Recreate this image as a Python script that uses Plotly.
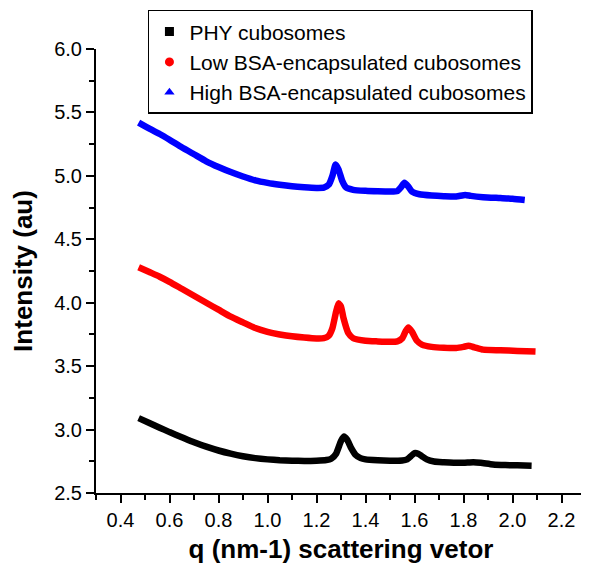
import plotly.graph_objects as go

# ---- data ----
q_phy = [0.474, 0.52, 0.56, 0.60, 0.65, 0.70, 0.75, 0.80, 0.85, 0.90, 0.95, 1.00, 1.05, 1.10,
         1.15, 1.20, 1.24, 1.26, 1.28, 1.30, 1.312, 1.325, 1.34, 1.36, 1.38, 1.40, 1.45, 1.50,
         1.55, 1.57, 1.585, 1.60, 1.615, 1.63, 1.65, 1.68, 1.72, 1.76, 1.80, 1.84, 1.87, 1.92,
         1.97, 2.02, 2.078]
i_phy = [3.09, 3.05, 3.015, 2.98, 2.94, 2.90, 2.865, 2.835, 2.81, 2.79, 2.775, 2.765, 2.758, 2.754,
         2.753, 2.755, 2.76, 2.77, 2.81, 2.91, 2.945, 2.92, 2.86, 2.80, 2.775, 2.765, 2.758, 2.755,
         2.756, 2.765, 2.79, 2.815, 2.81, 2.79, 2.765, 2.748, 2.742, 2.738, 2.738, 2.742, 2.738, 2.725,
         2.72, 2.718, 2.715]

q_low = [0.474, 0.52, 0.56, 0.60, 0.65, 0.70, 0.75, 0.80, 0.85, 0.90, 0.95, 1.00, 1.05, 1.10,
         1.15, 1.20, 1.23, 1.25, 1.265, 1.28, 1.29, 1.30, 1.31, 1.33, 1.35, 1.40, 1.45, 1.50,
         1.53, 1.55, 1.565, 1.575, 1.59, 1.61, 1.63, 1.67, 1.72, 1.77, 1.80, 1.82, 1.845, 1.88,
         1.95, 2.02, 2.094]
i_low = [4.28, 4.24, 4.205, 4.165, 4.11, 4.055, 4.0, 3.945, 3.89, 3.845, 3.80, 3.77, 3.75, 3.735,
         3.725, 3.718, 3.72, 3.74, 3.80, 3.93, 3.995, 3.97, 3.88, 3.76, 3.72, 3.70, 3.695, 3.692,
         3.695, 3.72, 3.78, 3.805, 3.77, 3.70, 3.67, 3.652, 3.645, 3.643, 3.652, 3.66, 3.648, 3.63,
         3.625, 3.62, 3.615]

q_high = [0.474, 0.52, 0.56, 0.60, 0.65, 0.70, 0.75, 0.80, 0.85, 0.90, 0.95, 1.00, 1.05, 1.10,
          1.15, 1.20, 1.23, 1.25, 1.265, 1.278, 1.29, 1.305, 1.32, 1.35, 1.40, 1.45, 1.50, 1.53,
          1.545, 1.559, 1.575, 1.59, 1.62, 1.67, 1.72, 1.77, 1.807, 1.83, 1.88, 1.95, 2.00, 2.05]
i_high = [5.42, 5.37, 5.33, 5.285, 5.225, 5.17, 5.115, 5.07, 5.03, 4.995, 4.965, 4.945, 4.93, 4.918,
          4.91, 4.905, 4.907, 4.93, 5.00, 5.09, 5.05, 4.96, 4.91, 4.89, 4.882, 4.878, 4.876, 4.88,
          4.91, 4.945, 4.915, 4.875, 4.855, 4.845, 4.84, 4.838, 4.85, 4.842, 4.832, 4.825, 4.82, 4.81]

names = ["PHY cubosomes", "Low BSA-encapsulated cubosomes", "High BSA-encapsulated cubosomes"]
colors = ["#000000", "#ff0000", "#0000ff"]
symbols = ["square", "circle", "triangle-up"]

x_ticks = [0.4, 0.6, 0.8, 1.0, 1.2, 1.4, 1.6, 1.8, 2.0, 2.2]
y_ticks = [2.5, 3.0, 3.5, 4.0, 4.5, 5.0, 5.5, 6.0]

fig = go.Figure()
series = [(q_phy, i_phy), (q_low, i_low), (q_high, i_high)]
for (qx, iy), c in zip(series, colors):
    fig.add_trace(go.Scatter(x=qx, y=iy, mode="lines",
                             line=dict(color=c, width=6.5, shape="spline", smoothing=0.5),
                             showlegend=False, hoverinfo="skip"))
for n, c, s in zip(names, colors, symbols):
    fig.add_trace(go.Scatter(x=[None], y=[None], mode="markers", name=n,
                             marker=dict(color=c, symbol=s, size=9)))

font_family = "Liberation Sans, Arial, sans-serif"
fig.update_layout(
    width=589, height=565,
    margin=dict(l=88, r=11, t=41, b=80, autoexpand=False),
    plot_bgcolor="white", paper_bgcolor="white",
    font=dict(family=font_family, color="black", size=20),
    legend=dict(x=0.106, y=1.088, xanchor="left", yanchor="top",
                bordercolor="black", borderwidth=1.5, bgcolor="white",
                font=dict(size=21, family=font_family, color="black"),
                itemwidth=30, tracegroupgap=0),
)
fig.update_xaxes(range=[0.3, 2.3], tickvals=x_ticks, ticktext=[f"{v:.1f}" for v in x_ticks],
                 showline=True, linecolor="black", linewidth=2, ticks="outside", ticklen=8,
                 tickwidth=1.5, tickcolor="black", showgrid=False, zeroline=False,
                 minor=dict(dtick=0.1, tick0=0.3, ticks="outside", ticklen=5, tickwidth=1.5, tickcolor="black"),
                 title=dict(text="<b>q (nm-1) scattering vetor</b>", font=dict(size=26), standoff=10))
fig.update_yaxes(range=[2.5, 6.0], tickvals=y_ticks, ticktext=[f"{v:.1f}" for v in y_ticks],
                 showline=True, linecolor="black", linewidth=2, ticks="outside", ticklen=8,
                 tickwidth=1.5, tickcolor="black", showgrid=False, zeroline=False,
                 minor=dict(dtick=0.25, tick0=2.5, ticks="outside", ticklen=5, tickwidth=1.5, tickcolor="black"),
                 title=dict(text="<b>Intensity (au)</b>", font=dict(size=26), standoff=16))

fig.write_html("out.html")
